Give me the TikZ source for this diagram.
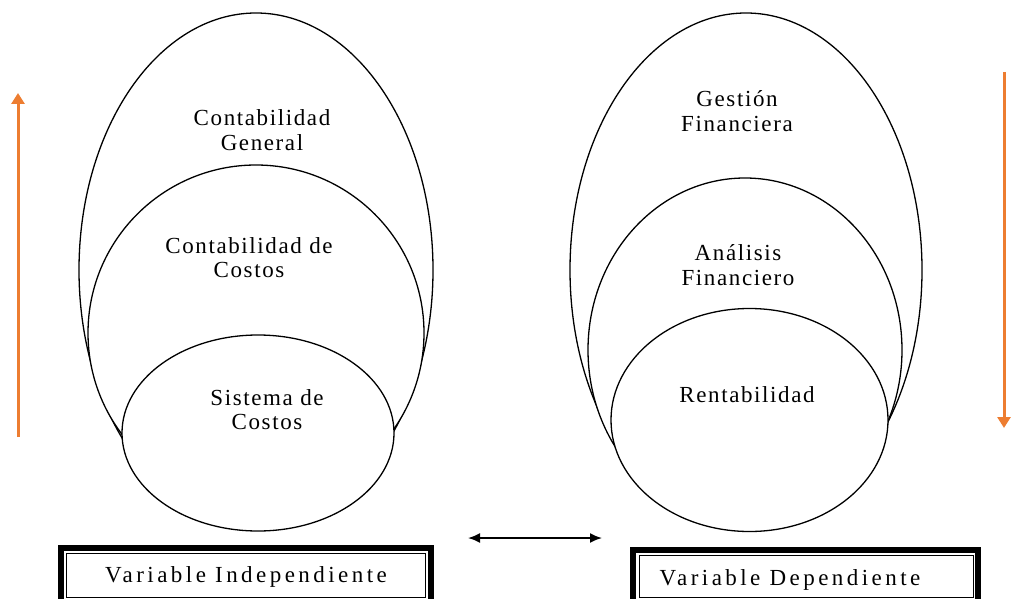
\documentclass[tikz,border=0pt]{standalone}
\usepackage{fontspec}
\setmainfont{Liberation Serif}
\usetikzlibrary{arrows.meta,shapes.geometric}
\definecolor{orng}{HTML}{ED7D31}
\begin{document}
\begin{tikzpicture}[x=1pt,y=-1pt,
  ell/.style={draw, ellipse, line width=1.3pt, fill=white, inner sep=0pt, outer sep=0pt},
  lbl/.style={align=center, inner sep=0pt, font=\fontsize{23}{24.5}\selectfont\addfontfeature{LetterSpace=7}},
  varlbl/.style={inner sep=0pt, font=\fontsize{23}{24}\selectfont\addfontfeature{LetterSpace=15}},
  thickbox/.style={draw, line width=6.5pt, inner sep=0pt, outer sep=0pt},
  thinbox/.style={draw, line width=0.9pt, inner sep=0pt, outer sep=0pt},
  uparrow/.style={draw=orng, line width=3pt, -{Triangle[length=11pt,width=13pt]}},
  linkarrow/.style={draw, line width=1.8pt, {Latex[length=12pt,width=10pt]}-{Latex[length=12pt,width=10pt]}}
]
\useasboundingbox (0,0) rectangle (1011,599);
\clip (0,0) rectangle (1011,599);

% left ellipses
\node[ell, minimum width=354pt, minimum height=514pt] (lo) at (256,270) {};
\node[ell, minimum width=336pt, minimum height=336pt] (lm) at (256,333) {};
\node[ell, minimum width=272pt, minimum height=196pt] (ls) at (258,433) {};

% right ellipses
\node[ell, minimum width=352pt, minimum height=514pt] (ro) at (746,270) {};
\node[ell, minimum width=314pt, minimum height=344pt] (rm) at (745,350) {};
\node[ell, minimum width=277pt, minimum height=223pt] (rs) at (749.5,420) {};

% labels
\node[lbl] (t1) at (262,130) {Contabilidad\\General};
\node[lbl] (t2) at (249,257.5) {Contabilidad de\\Costos};
\node[lbl] (t3) at (267,409.5) {Sistema de\\Costos};
\node[lbl] (t4) at (737,111) {Gestión\\Financiera};
\node[lbl] (t5) at (738,265) {Análisis\\Financiero};
\node[lbl] (t6) at (747,394.5) {Rentabilidad};

% variable boxes
\node[thickbox, minimum width=370pt, minimum height=57pt] (bi) at (246,576.5) {};
\node[thinbox, minimum width=359pt, minimum height=44pt] (bii) at (245.5,575) {};
\node[varlbl] (vi) at (246,577.3) {Variable Independiente};

\node[thickbox, minimum width=345pt, minimum height=55pt] (bd) at (805.5,577.5) {};
\node[thinbox, minimum width=334pt, minimum height=42pt] (bdi) at (806,576) {};
\node[varlbl] (vd) at (790,580) {Variable Dependiente};

% arrows
\coordinate (al) at (468,538);
\coordinate (ar) at (602,538);
\draw[linkarrow] (al) -- (ar);

\coordinate (lb) at (18,437);
\coordinate (lt) at (18,93);
\draw[uparrow] (lb) -- (lt);

\coordinate (rt) at (1004,72);
\coordinate (rb) at (1004,428);
\draw[uparrow] (rt) -- (rb);
\end{tikzpicture}
\end{document}
